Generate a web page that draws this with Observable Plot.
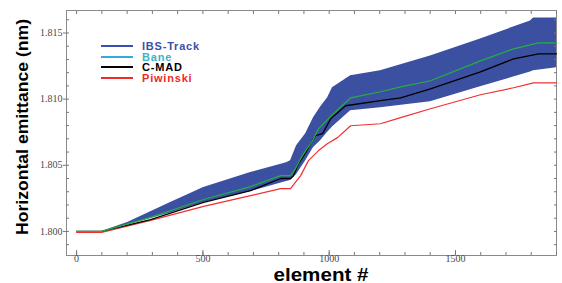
<!DOCTYPE html>
<html><head><meta charset="utf-8">
<script src="https://cdn.jsdelivr.net/npm/d3@7"></script>
<script src="https://cdn.jsdelivr.net/npm/@observablehq/plot@0.6"></script>
<style>
body{margin:0;background:#fff}
#chart{position:relative;width:562px;height:283px;overflow:hidden}
.leg{position:absolute;left:101px;top:41px;font-family:"Liberation Sans",Arial,sans-serif;font-weight:bold;font-size:11px;letter-spacing:0.8px}
.leg div{display:flex;align-items:center;height:10.6px}
.leg span{line-height:10px}
.leg span.l{display:inline-block;width:32px;height:2px;margin-right:9px}
</style>
</head><body><div id="chart"></div>
<script>
// C-MAD (black)
const cmadX = [0, 99, 293, 503, 689, 808, 847, 859, 879, 907, 926, 946, 974, 1006, 1065, 1203, 1283, 1401, 1599, 1730, 1829, 1900];
const cmadY = [1.8000, 1.8000, 1.8009, 1.80219, 1.80309, 1.80400, 1.80400, 1.80422, 1.80513, 1.80596, 1.80664, 1.80724, 1.80739, 1.80852, 1.80950, 1.80988, 1.81010, 1.81078, 1.81206, 1.81304, 1.81342, 1.81342];
// Bane (green)
const baneX = [0, 99, 293, 503, 689, 808, 847, 867, 887, 907, 934, 958, 1017, 1085, 1203, 1283, 1401, 1599, 1730, 1829, 1900];
const baneY = [1.8000, 1.8000, 1.80106, 1.80241, 1.80339, 1.80422, 1.80422, 1.80475, 1.80550, 1.80611, 1.80686, 1.80777, 1.80890, 1.81010, 1.81056, 1.81093, 1.81139, 1.81289, 1.81380, 1.81425, 1.81425];
// Piwinski (red)
const piwX = [0, 99, 293, 503, 689, 808, 847, 887, 918, 958, 994, 1033, 1085, 1203, 1283, 1401, 1599, 1730, 1809, 1900];
const piwY = [1.79992, 1.79992, 1.80083, 1.80189, 1.80271, 1.80324, 1.80324, 1.80422, 1.80535, 1.80611, 1.80664, 1.80709, 1.80799, 1.80814, 1.80860, 1.80927, 1.81033, 1.81086, 1.81123, 1.81123];
// IBS-Track band
const bandX = [0, 99, 202, 372, 503, 689, 831, 847, 871, 907, 938, 966, 994, 1013, 1085, 1203, 1401, 1599, 1797, 1809, 1900];
const bandHigh = [1.8000, 1.8000, 1.80068, 1.80219, 1.80332, 1.80445, 1.80520, 1.80535, 1.80648, 1.80739, 1.80860, 1.80940, 1.81010, 1.81086, 1.81176, 1.81214, 1.81327, 1.81455, 1.81591, 1.81614, 1.81614];
const bandLow = [1.8000, 1.8000, 1.80048, 1.80139, 1.80219, 1.80302, 1.80377, 1.80385, 1.80430, 1.80535, 1.80634, 1.80686, 1.80750, 1.80790, 1.80912, 1.80935, 1.80980, 1.81093, 1.81205, 1.81214, 1.81237];

const xTicks = [0, 500, 1000, 1500];
const xMinor = d3.range(0, 1901, 100);
const yTicks = [1.800, 1.805, 1.810, 1.815];
const yMinor = d3.range(1799, 1817).map(v => v / 1000);

const series = [
  {name: "IBS-Track", line: "#3a4fb0", text: "#3d4fa8"},
  {name: "Bane", line: "#3aa8e0", text: "#3cb4c8"},
  {name: "C-MAD", line: "#000000", text: "#000000"},
  {name: "Piwinski", line: "#ee2a2a", text: "#ee2a2a"}
];

const band = bandX.map((x, i) => ({x, lo: bandLow[i], hi: bandHigh[i]}));
const pts = (X, Y) => X.map((x, i) => ({x, y: Y[i]}));

const tickFont = {fontFamily: "Liberation Serif, serif", fontSize: 10, fill: "#4a4a4a"};

const plot = Plot.plot({
  width: 562, height: 283,
  marginLeft: 66, marginRight: 6, marginTop: 10, marginBottom: 28,
  x: {domain: [-40, 1900], label: null},
  y: {domain: [1.79818, 1.8167], label: null},
  style: {background: "#fff"},
  marks: [
    Plot.frame({stroke: "#8a8a8a"}),
    Plot.areaY(band, {x: "x", y1: "lo", y2: "hi", fill: "#3c50a2"}),
    Plot.line(pts(piwX, piwY), {x: "x", y: "y", stroke: "#f03030", strokeWidth: 1.2}),
    Plot.line(pts(cmadX, cmadY), {x: "x", y: "y", stroke: "#000", strokeWidth: 1.3}),
    Plot.line(pts(baneX, baneY), {x: "x", y: "y", stroke: "#22b040", strokeWidth: 1.2}),
    Plot.axisX({ticks: xMinor, tickSize: -3, text: null, anchor: "bottom", label: null, stroke: "#777"}),
    Plot.axisX({ticks: xMinor, tickSize: -3, text: null, anchor: "top", label: null, stroke: "#777"}),
    Plot.axisY({ticks: yMinor, tickSize: -3, text: null, anchor: "left", label: null, stroke: "#777"}),
    Plot.axisY({ticks: yMinor, tickSize: -3, text: null, anchor: "right", label: null, stroke: "#777"}),
    Plot.axisX({ticks: xTicks, tickSize: -5, text: null, anchor: "bottom", label: null, stroke: "#777"}),
    Plot.axisY({ticks: yTicks, tickSize: 3, text: null, anchor: "left", label: null, stroke: "#777"}),
    Plot.axisY({ticks: yTicks, tickSize: 0, tickPadding: 4, tickFormat: d => d.toFixed(3), anchor: "left", label: null, ...tickFont}),
    Plot.text(xTicks, {x: d => d, text: d => String(d), frameAnchor: "bottom", dy: 6.5, ...tickFont})
  ]
});

const svg = d3.select(plot);
svg.insert("text", ":first-child")
  .attr("transform", "translate(28,127) rotate(-90)")
  .attr("text-anchor", "middle")
  .attr("font-family", "Liberation Sans, Arial, sans-serif")
  .attr("font-weight", "bold").attr("font-size", 17).attr("fill", "#000")
  .attr("textLength", 216).attr("lengthAdjust", "spacingAndGlyphs")
  .text("Horizontal emittance (nm)");
svg.insert("text", ":first-child")
  .attr("x", 321).attr("y", 281)
  .attr("text-anchor", "middle")
  .attr("font-family", "Liberation Sans, Arial, sans-serif")
  .attr("font-weight", "bold").attr("font-size", 18).attr("fill", "#000")
  .attr("textLength", 95).attr("lengthAdjust", "spacingAndGlyphs")
  .text("element #");

const chart = document.getElementById("chart");
chart.appendChild(plot);
const leg = document.createElement("div");
leg.className = "leg";
series.forEach(s => {
  const row = document.createElement("div");
  const l = document.createElement("span"); l.className = "l"; l.style.background = s.line;
  const t = document.createElement("span"); t.textContent = s.name; t.style.color = s.text;
  row.appendChild(l); row.appendChild(t); leg.appendChild(row);
});
chart.appendChild(leg);
</script></body></html>
